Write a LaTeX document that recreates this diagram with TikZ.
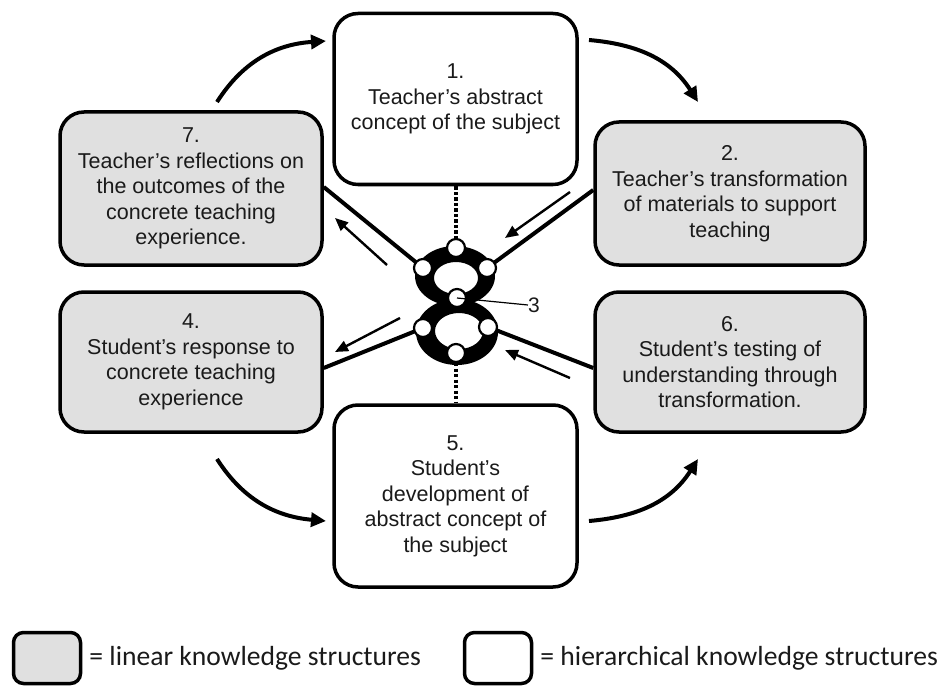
\documentclass[tikz,border=0pt]{standalone}
\usepackage{fontspec}
\setmainfont{Liberation Sans}
\newfontfamily\legendfont{Carlito}
\usetikzlibrary{arrows.meta,calc}
\pgfdeclarelayer{background}
\pgfsetlayers{background,main}
\definecolor{boxgrey}{HTML}{E0E0E0}
\definecolor{inktext}{HTML}{1A1A1A}
\tikzset{
  stagebox/.style={draw=black, line width=3.5pt, rounded corners=24pt,
    inner sep=0pt, align=center, text=inktext,
    font=\fontsize{21.5}{25.5}\selectfont},
  linearbox/.style={stagebox, fill=boxgrey},
  hierbox/.style={stagebox, fill=white},
  joint/.style={circle, draw=black, fill=white, line width=2.2pt,
    minimum size=18pt, inner sep=0pt},
  spoke/.style={line width=4pt},
  flowarrow/.style={line width=4pt, -{Triangle[length=15pt,width=14pt]}},
  hintarrow/.style={line width=2.4pt, -{Triangle[length=13pt,width=11pt]}},
  tieline/.style={line width=4pt, dash pattern=on 3.3pt off 2.2pt},
  legendbox/.style={draw=black, line width=3.5pt, rounded corners=10pt,
    minimum width=67pt, minimum height=51pt, inner sep=0pt},
  legendtext/.style={anchor=west, inner sep=0pt, text=inktext,
    font=\legendfont\fontsize{27.6}{30}\selectfont}
}
\begin{document}
\begin{tikzpicture}[x=1pt,y=-1pt]
\useasboundingbox (0,0) rectangle (944,687);

% stage boxes
\node[hierbox, minimum width=243pt, minimum height=171pt] (b1) at (455.5,99)
  {1.\\Teacher’s abstract\\concept of the subject};
\node[linearbox, minimum width=270pt, minimum height=143pt] (b2) at (730,193.5)
  {2.\\Teacher’s transformation\\of materials to support\\teaching};
\node[linearbox, minimum width=262pt, minimum height=153pt] (b7) at (191,188.5)
  {7.\\Teacher’s reflections on\\the outcomes of the\\concrete teaching\\experience.};
\node[linearbox, minimum width=262pt, minimum height=140pt] (b4) at (191,362)
  {4.\\Student’s response to\\concrete teaching\\experience};
\node[linearbox, minimum width=270pt, minimum height=140pt] (b6) at (730,362)
  {6.\\Student’s testing of\\understanding through\\transformation.};
\node[hierbox, minimum width=243pt, minimum height=182pt] (b5) at (455.5,496)
  {5.\\Student’s\\development of\\abstract concept of\\the subject};

% joints of the figure-eight
\node[joint] (jt) at (456,248) {};
\node[joint] (jul) at (423,268) {};
\node[joint] (jur) at (487,268) {};
\node[joint] (jm) at (457,298) {};
\node[joint] (jll) at (423,328) {};
\node[joint] (jlr) at (488,327) {};
\node[joint] (jb) at (456,353) {};

\begin{pgfonlayer}{background}
  % spokes to the side boxes
  \draw[spoke] ([yshift=1.5pt]b7.east) -- (jul.center);
  \draw[spoke] ([yshift=3.5pt]b2.west) -- (jur.center);
  \draw[spoke] ([yshift=-6pt]b4.east) -- (jll.center);
  \draw[spoke] ([yshift=-6pt]b6.west) -- (jlr.center);
  % the two rings
  \fill[black, even odd rule] (455,276) ellipse [x radius=40pt, y radius=30pt]
    (456,278) ellipse [x radius=22pt, y radius=16pt];
  \fill[black, even odd rule] (457,332) ellipse [x radius=41pt, y radius=33pt]
    (459,331) ellipse [x radius=24pt, y radius=18pt];
\end{pgfonlayer}

% dotted ties to the hierarchical boxes
\draw[tieline] (b1.south -| jt) -- (jt);
\draw[tieline] (jb) -- (b5.north -| jb);

% label 3
\node[inner sep=0pt, text=inktext, font=\fontsize{21}{24}\selectfont] (n3) at (534,305) {3};
\draw[line width=1.2pt] (jm.center) -- (n3.west);

% cycle arrows between boxes
\coordinate (s71) at (217,102);  \coordinate (e71) at (326,41);
\coordinate (s12) at (589,40);   \coordinate (e12) at (698,102);
\coordinate (s45) at (217,459);  \coordinate (e45) at (326,521);
\coordinate (s56) at (589,521);  \coordinate (e56) at (698,459);
\draw[flowarrow] (s71) .. controls (245,58) and (280,44) .. (e71);
\draw[flowarrow] (s12) .. controls (635,44) and (670,58) .. (e12);
\draw[flowarrow] (s45) .. controls (245,503) and (280,517) .. (e45);
\draw[flowarrow] (s56) .. controls (635,517) and (670,503) .. (e56);

% direction hints beside the spokes
\coordinate (h7a) at (387,265); \coordinate (h7b) at (335,218);
\coordinate (h2a) at (570,192); \coordinate (h2b) at (505,238);
\coordinate (h4a) at (400,318); \coordinate (h4b) at (335,352);
\coordinate (h6a) at (570,378); \coordinate (h6b) at (505,350);
\draw[hintarrow] (h7a) -- (h7b);
\draw[hintarrow] (h2a) -- (h2b);
\draw[hintarrow] (h4a) -- (h4b);
\draw[hintarrow] (h6a) -- (h6b);

% legend
\node[legendbox, fill=boxgrey] (lg) at (47,658) {};
\node[legendtext] (lgt) at ([xshift=7pt]lg.east) {= linear knowledge structures};
\node[legendbox, fill=white] (lh) at (498,658) {};
\node[legendtext] (lht) at ([xshift=7pt]lh.east) {= hierarchical knowledge structures};
\end{tikzpicture}
\end{document}
